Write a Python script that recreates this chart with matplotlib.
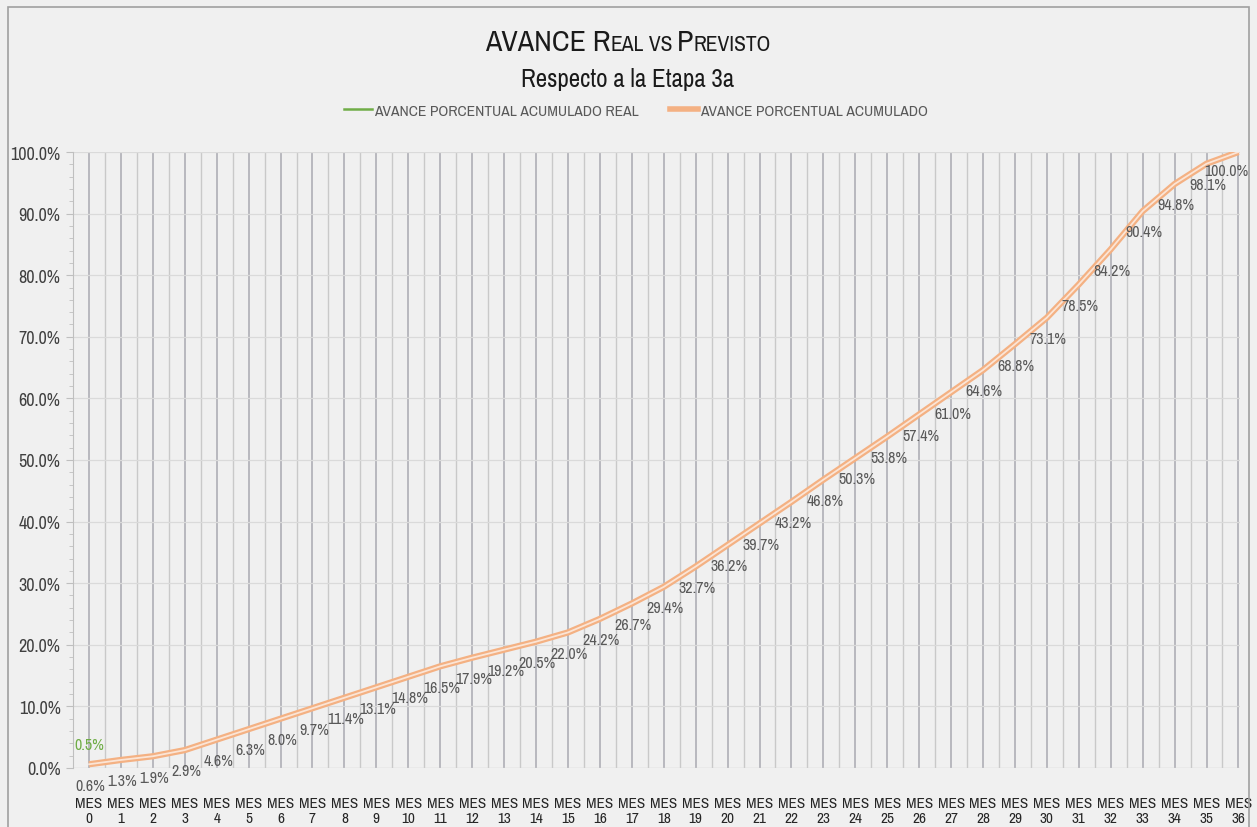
import matplotlib
matplotlib.use("Agg")
import matplotlib.pyplot as plt
from matplotlib.patches import Rectangle
from matplotlib.ticker import MultipleLocator, FuncFormatter
from matplotlib import font_manager

# fuente estrecha si existe
fuentes = font_manager.fontManager.ttflist
narrow = [f for f in fuentes if 'Narrow' in f.name or 'Condensed' in f.name]
cond = [f for f in fuentes if f.name == 'DejaVu Sans' and f.stretch in ('condensed', 'semi-condensed', 600, 500)]
if narrow:
    plt.rcParams['font.family'] = [narrow[0].name, 'DejaVu Sans']
    esc = 1.0
elif cond:
    plt.rcParams['font.family'] = ['DejaVu Sans']
    plt.rcParams['font.stretch'] = 'condensed'
    esc = 0.9
else:
    plt.rcParams['font.family'] = ['Liberation Sans', 'DejaVu Sans']
    esc = 0.8

# datos
meses = ['MES\n%d' % i for i in range(37)]
previsto = [0.6, 1.3, 1.9, 2.9, 4.6, 6.3, 8.0, 9.7, 11.4, 13.1, 14.8, 16.5, 17.9, 19.2,
            20.5, 22.0, 24.2, 26.7, 29.4, 32.7, 36.2, 39.7, 43.2, 46.8, 50.3, 53.8, 57.4,
            61.0, 64.6, 68.8, 73.1, 78.5, 84.2, 90.4, 94.8, 98.1, 100.0]
real = [0.5]

bg = '#f0f0f0'
gris = '#595959'
verde = '#70ad47'
naranja = '#f4b183'

fig = plt.figure(figsize=(12.57, 8.28), dpi=100, facecolor=bg)
fig.patches.append(Rectangle((0.006, -0.01), 0.988, 1.0, transform=fig.transFigure,
                             fill=False, edgecolor='#a0a0a0', lw=1.2))
ax = fig.add_axes([0.0581, 0.0713, 0.9284, 0.7439])
ax.set_facecolor(bg)

x = list(range(len(previsto)))
yp = [v / 100 for v in previsto]
yr = [v / 100 for v in real]

# rejilla vertical (categoria + intermedia)
for i in x:
    ax.axvline(i, color='#a9a9b1', lw=1.1, zorder=1)
    if i < len(x) - 1:
        ax.axvline(i + 0.5, color='#c9c9c9', lw=1.0, zorder=1)
for k in range(1, 11):
    ax.axhline(k / 10, color='#dadada', lw=0.9, zorder=1)
ax.axhline(0, color='#d0d0d0', lw=1.0, zorder=1)

ax.plot(x, yp, color=naranja, lw=4.5, solid_capstyle='butt', zorder=3)
ax.plot(x, yp, color='#fbe5d6', lw=1.3, zorder=4)
ax.plot(x[:len(yr)], yr, color=verde, lw=2, zorder=5)

fs_dat = 11.5 * esc
for i, v in enumerate(previsto):
    dx = -9 if i == len(previsto) - 1 else 1
    dy = -13 if i == len(previsto) - 1 else -15
    ax.annotate('%.1f%%' % v, (i, yp[i]), xytext=(dx, dy), textcoords='offset points',
                ha='center', va='center', fontsize=fs_dat, color=gris,
                fontweight='bold' if i == 0 else 'normal', zorder=6)
for i, v in enumerate(real):
    ax.annotate('%.1f%%' % v, (i, yr[i]), xytext=(0, 15), textcoords='offset points',
                ha='center', va='center', fontsize=fs_dat, color=verde, fontweight='bold', zorder=6)

ax.set_xlim(-0.5, 36.05)
ax.set_ylim(0, 1.0)
ax.set_xticks(x)
ax.set_xticklabels(meses, fontsize=11 * esc, color='#262626', linespacing=1.15)
ax.tick_params(axis='x', length=0, pad=20)
ax.yaxis.set_major_locator(MultipleLocator(0.1))
ax.yaxis.set_minor_locator(MultipleLocator(0.02))
ax.yaxis.set_major_formatter(FuncFormatter(lambda v, p: '%.1f%%' % (v * 100)))
ax.tick_params(axis='y', which='major', length=5, color='#bfbfbf', labelsize=13 * esc,
               labelcolor='#404040', pad=4)
ax.tick_params(axis='y', which='minor', length=3, color='#bfbfbf')
for s in ['top', 'right', 'bottom']:
    ax.spines[s].set_visible(False)
ax.spines['left'].set_color('#bfbfbf')

# titulo en versalitas
fig.canvas.draw()
r = fig.canvas.get_renderer()
partes = [('AVANCE R', 21.5), ('EAL', 15.5), (' VS ', 15.5), ('P', 21.5), ('REVISTO', 15.5)]
txts = []
for s, fs in partes:
    t = fig.text(0, 0.938, s, fontsize=fs * esc, color='#1a1a1a', ha='left', va='baseline')
    txts.append(t)
anchos = [t.get_window_extent(r).width for t in txts]
xpos = 628 - sum(anchos) / 2
for t, w in zip(txts, anchos):
    t.set_x(xpos / 1257)
    xpos += w
fig.text(0.4996, 0.895, 'Respecto a la Etapa 3a', fontsize=18 * esc, color='#1a1a1a',
         ha='center', va='baseline')

h1, = ax.plot([], [], color=verde, lw=1.8)
h2, = ax.plot([], [], color=naranja, lw=4)
fig.legend([h1, h2], ['AVANCE PORCENTUAL ACUMULADO REAL', 'AVANCE PORCENTUAL ACUMULADO'],
           loc='center', bbox_to_anchor=(0.506, 0.865), ncol=2, frameon=False,
           fontsize=11.2 * esc, labelcolor=gris, handlelength=1.8,
           handletextpad=0.15, columnspacing=2.0)

fig.savefig('out.png', dpi=100, facecolor=bg)
